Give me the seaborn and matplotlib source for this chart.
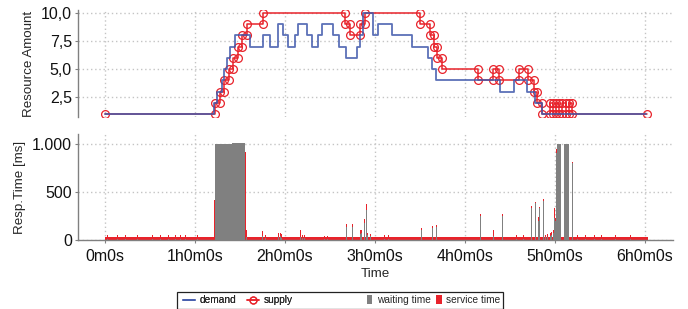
import matplotlib
matplotlib.use("Agg")
import matplotlib.pyplot as plt
import seaborn as sns
import pandas as pd
from matplotlib.ticker import FuncFormatter, FixedLocator
from matplotlib.lines import Line2D
from matplotlib.patches import Patch, Rectangle

# ---------------- data (time in minutes) ----------------
demand_t = [0, 72.7, 74.9, 77.8, 79.5, 81.1, 83.3, 86.7, 96.7, 105.3, 110, 115.3, 118.7,
            122, 126.7, 128.7, 134.7, 138, 142, 144.7, 152, 156.2, 160.7, 167.8, 170,
            171.8, 178.9, 182.2, 191.5, 204.9, 215.5, 218.2, 220.5, 263.3, 272.7, 281.3,
            286.7, 291.3, 360.7]
demand_v = [1, 2, 3, 4, 5, 6, 7, 8, 7, 8, 7, 9, 8, 7, 8, 9, 8, 7, 8, 9, 8, 7, 6, 7, 8,
            10, 8, 9, 8, 7, 6, 5, 4, 3, 4, 3, 2, 1, 1]

supply_t = [0, 73.3, 76.7, 79.5, 82.5, 85.5, 88.5, 91.5, 94.7, 105.1, 160, 163.3, 170,
            173.3, 210, 216.7, 219.3, 221.5, 224.5, 248.9, 258.9, 263, 275.7, 282.3,
            285.7, 288.2, 291.1, 297, 298.9, 300.7, 303, 305, 307.3, 309.3, 311.1, 361.1]
supply_v = [1, 2, 3, 4, 5, 6, 7, 8, 9, 10, 9, 8, 9, 10, 9, 8, 7, 6, 5, 4, 5, 4, 5, 4, 3,
            2, 1, 2, 1, 2, 1, 2, 1, 2, 1, 1]

# baseline response time band
base_start = [0]
base_end = [361.8]
base_wait = [5]
base_service = [28]

# dense saturated blocks of waiting time
block_start = [73.3, 84.5, 301.1, 306.2]
block_end = [84.5, 93.3, 303.8, 309.1]
block_wait = [1000, 1012, 1000, 1000]
block_service = [0, 0, 0, 0]

# individual response-time spikes
spike_t = [1.1, 7.8, 13.3, 21.1, 31.1, 36.7, 42.2, 46.7, 50, 53.3, 61.1,
           72.7, 93.5, 94.2, 105, 106.5, 115.5, 116.5, 117.5, 130, 131.5, 133,
           146, 148, 161, 165, 170, 171, 172.7, 174, 175, 176.5, 186, 188.7,
           210.7, 218.3, 221, 223.7, 225.7, 250, 258.9, 264.5, 274, 278.7,
           283.8, 286.9, 289, 289.5, 292.3, 293.5, 295, 296.5, 297.5, 298.5,
           299.3, 300, 300.7, 306, 311.3, 315, 320, 326, 331, 340, 350]
spike_wait = [10, 10, 10, 10, 10, 10, 10, 10, 10, 10, 10,
              0, 0, 30, 40, 20, 30, 40, 25, 30, 20, 20,
              15, 15, 140, 140, 60, 70, 180, 312, 50, 40, 10, 10,
              100, 120, 135, 160, 185, 250, 40, 250, 10, 10,
              335, 380, 200, 330, 405, 30, 35, 45, 55, 70,
              230, 200, 903, 920, 800, 10, 10, 10, 10, 10, 10]
spike_service = [40, 40, 38, 40, 40, 38, 40, 38, 40, 38, 40,
                 417, 913, 74, 55, 30, 40, 30, 40, 74, 30, 28,
                 30, 30, 25, 25, 45, 30, 35, 60, 25, 25, 38, 38,
                 22, 26, 25, 24, 23, 20, 64, 20, 38, 38,
                 20, 20, 36, 17, 20, 25, 25, 25, 25, 30,
                 105, 26, 42, 35, 9, 38, 38, 38, 38, 38, 38]

hour_ticks = [0, 60, 120, 180, 240, 300, 360]
top_yticks = [2.5, 5.0, 7.5, 10.0]
bottom_yticks = [0, 500, 1000]

# ---------------- style ----------------
sns.set_theme(style="white")
plt.rcParams['font.family'] = ['Liberation Sans', 'DejaVu Sans']

BLUE = "#3f58ab"
RED = "#e8232b"
GREY = "#808080"
GRID = dict(color="#c4c4c4", linestyle=(0, (1, 2)), linewidth=1.0)

fig = plt.figure(figsize=(6.88, 3.09), dpi=100)
ax1 = fig.add_axes([0.1134, 0.6214, 0.8648, 0.3463])
ax2 = fig.add_axes([0.1134, 0.2233, 0.8648, 0.342])

# ---------------- top chart ----------------
sx, sy = [], []
prev = None
for t, v in zip(supply_t, supply_v):
    if prev is not None and v != prev:
        sx.append(t); sy.append(prev)
    sx.append(t); sy.append(v)
    prev = v
sup_df = pd.DataFrame({"t": sx, "v": sy})
dem_df = pd.DataFrame({"t": demand_t, "v": demand_v})

sns.lineplot(data=sup_df, x="t", y="v", ax=ax1, estimator=None, sort=False,
             color=RED, lw=1.1, marker="o", markersize=5.6, markerfacecolor="none",
             markeredgecolor=RED, markeredgewidth=0.9, zorder=3)
sns.lineplot(data=dem_df, x="t", y="v", ax=ax1, estimator=None, sort=False,
             drawstyle="steps-post", color=BLUE, lw=1.3, alpha=0.85, zorder=4)

ax1.set_xlim(-18, 378.7)
ax1.set_ylim(0.73, 10.27)
ax1.xaxis.set_major_locator(FixedLocator(hour_ticks))
ax1.yaxis.set_major_locator(FixedLocator(top_yticks))
ax1.set_xticklabels([])
ax1.yaxis.set_major_formatter(FuncFormatter(lambda v, p: f"{v:.1f}".replace(".", ",")))
ax1.grid(True, **GRID)
ax1.set_xlabel("")
ax1.set_ylabel("Resource Amount", fontsize=9.6, labelpad=4)
for s in ["top", "right", "bottom"]:
    ax1.spines[s].set_visible(False)
ax1.spines["left"].set_color(GREY)
ax1.spines["left"].set_linewidth(1.0)
ax1.tick_params(axis="y", left=True, length=2.5, width=0.8, color=GREY, pad=2,
                labelsize=11.5, labelcolor="#111111")
ax1.tick_params(axis="x", bottom=False, length=0)

# ---------------- bottom chart ----------------
def stacked(ax, starts, ends, wait, serv):
    widths = [e - s for s, e in zip(starts, ends)]
    ax.bar(starts, wait, width=widths, align="edge", color=GREY, linewidth=0, zorder=2)
    ax.bar(starts, serv, width=widths, bottom=wait, align="edge", color=RED,
           linewidth=0, zorder=2)

stacked(ax2, base_start, base_end, base_wait, base_service)
stacked(ax2, spike_t, [t + 0.6 for t in spike_t], spike_wait, spike_service)
stacked(ax2, block_start, block_end, block_wait, block_service)

ax2.set_xlim(-18, 378.7)
ax2.set_ylim(0, 1100)
ax2.xaxis.set_major_locator(FixedLocator(hour_ticks))
ax2.yaxis.set_major_locator(FixedLocator(bottom_yticks))


def fmt_time(v, p):
    total = int(round(v * 60))
    h, rem = divmod(total, 3600)
    m, s = divmod(rem, 60)
    return f"{h}h{m}m{s}s" if h else f"{m}m{s}s"


ax2.xaxis.set_major_formatter(FuncFormatter(fmt_time))
ax2.yaxis.set_major_formatter(FuncFormatter(lambda v, p: f"{int(v):,}".replace(",", ".")))
ax2.grid(True, **GRID)
ax2.set_axisbelow(True)
ax2.set_xlabel("Time", fontsize=9.6, labelpad=3)
ax2.set_ylabel("Resp.Time [ms]", fontsize=9.6, labelpad=4)
for s in ["top", "right"]:
    ax2.spines[s].set_visible(False)
for s in ["left", "bottom"]:
    ax2.spines[s].set_color(GREY)
    ax2.spines[s].set_linewidth(1.0)
ax2.tick_params(axis="y", left=True, length=2.5, width=0.8, color=GREY, pad=2,
                labelsize=11.5, labelcolor="#111111")
ax2.tick_params(axis="x", bottom=True, length=2.5, width=0.8, color=GREY, pad=4,
                labelsize=11.5, labelcolor="#111111")

# ---------------- legend ----------------
fig.patches.append(Rectangle((0.2568, 0.0015), 0.4739, 0.0545, transform=fig.transFigure,
                             fill=False, edgecolor="#222222", linewidth=0.9))
h_dem = Line2D([], [], color=BLUE, lw=1.3, alpha=0.85)
h_sup = Line2D([], [], color=RED, lw=1.1, marker="o", markersize=5.0,
               markerfacecolor="none", markeredgecolor=RED, markeredgewidth=0.9)
leg1 = fig.legend([h_dem, h_sup], ["demand", "supply"], loc="center left",
                  bbox_to_anchor=(0.266, 0.0285), ncol=2, frameon=False, fontsize=7.3,
                  handlelength=1.2, handletextpad=0.4, columnspacing=1.1,
                  borderpad=0, borderaxespad=0)
fig.add_artist(leg1)
h_w = Patch(facecolor=GREY, edgecolor="none")
h_s = Patch(facecolor=RED, edgecolor="none")
fig.legend([h_w, h_s], ["waiting time", "service time"], loc="center left",
           bbox_to_anchor=(0.534, 0.0285), ncol=2, frameon=False, fontsize=7.3,
           handlelength=0.5, handleheight=1.0, handletextpad=0.4, columnspacing=0.6,
           borderpad=0, borderaxespad=0)

fig.savefig("out.png", dpi=100)
